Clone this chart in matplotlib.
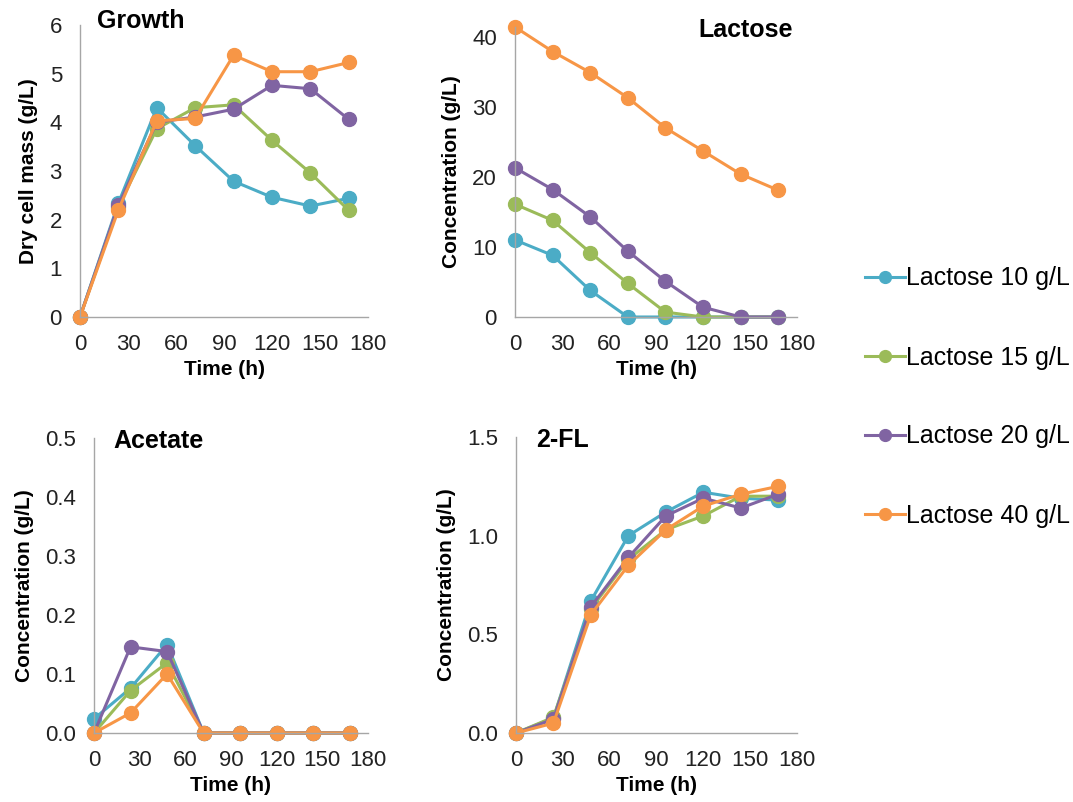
import matplotlib
matplotlib.use('Agg')
import matplotlib.pyplot as plt
from matplotlib.ticker import FormatStrFormatter

plt.rcParams['font.family'] = ['Liberation Sans', 'DejaVu Sans']

time = [0, 24, 48, 72, 96, 120, 144, 168]
labels = ['Lactose 10 g/L', 'Lactose 15 g/L', 'Lactose 20 g/L', 'Lactose 40 g/L']
colors = ['#4bacc6', '#9bbb59', '#8064a2', '#f79646']

growth = [
    [0, 2.34, 4.30, 3.52, 2.79, 2.46, 2.28, 2.44],
    [0, 2.27, 3.87, 4.30, 4.36, 3.63, 2.96, 2.19],
    [0, 2.30, 4.00, 4.11, 4.27, 4.76, 4.69, 4.06],
    [0, 2.20, 4.03, 4.08, 5.38, 5.04, 5.04, 5.23],
]
lactose = [
    [11.0, 8.8, 3.8, 0, 0, 0, 0, 0],
    [16.1, 13.8, 9.2, 4.8, 0.7, 0, 0, 0],
    [21.3, 18.2, 14.3, 9.4, 5.1, 1.4, 0, 0],
    [41.4, 37.9, 34.9, 31.3, 27.0, 23.7, 20.4, 18.1],
]
acetate = [
    [0.024, 0.076, 0.150, 0, 0, 0, 0, 0],
    [0, 0.072, 0.119, 0, 0, 0, 0, 0],
    [0, 0.146, 0.138, 0, 0, 0, 0, 0],
    [0, 0.034, 0.100, 0, 0, 0, 0, 0],
]
fl2 = [
    [0, 0.076, 0.67, 1.00, 1.12, 1.22, 1.19, 1.18],
    [0, 0.080, 0.63, 0.88, 1.03, 1.10, 1.20, 1.20],
    [0, 0.070, 0.64, 0.89, 1.10, 1.19, 1.14, 1.21],
    [0, 0.050, 0.60, 0.85, 1.03, 1.15, 1.21, 1.25],
]

W, H = 1073, 802
fig = plt.figure(figsize=(W / 100, H / 100), dpi=100)


def make_ax(left, right, top, bottom):
    return fig.add_axes([left / W, 1 - bottom / H, (right - left) / W, (bottom - top) / H])


panels = [
    (make_ax(80, 368, 25, 317), growth, 6, [0, 1, 2, 3, 4, 5, 6], '%d', 'Dry cell mass (g/L)'),
    (make_ax(515, 797, 27, 317), lactose, 41.4, [0, 10, 20, 30, 40], '%d', 'Concentration (g/L)'),
    (make_ax(94, 368, 438, 733), acetate, 0.5, [0, 0.1, 0.2, 0.3, 0.4, 0.5], '%.1f', 'Concentration (g/L)'),
    (make_ax(516, 797, 437, 733), fl2, 1.5, [0, 0.5, 1.0, 1.5], '%.1f', 'Concentration (g/L)'),
]

for ax, data, ymax, yticks, fmt, ylab in panels:
    for vals, c, lab in zip(data, colors, labels):
        ax.plot(time, vals, color=c, lw=2.2, marker='o', ms=10, label=lab, clip_on=False)
    ax.set_xlim(0, 180)
    ax.set_ylim(0, ymax)
    ax.set_xticks([0, 30, 60, 90, 120, 150, 180])
    ax.set_yticks(yticks)
    ax.yaxis.set_major_formatter(FormatStrFormatter(fmt))
    ax.tick_params(length=0, labelsize=16, colors='#222222')
    ax.tick_params(axis='y', pad=13)
    ax.tick_params(axis='x', pad=12)
    for s in ['top', 'right']:
        ax.spines[s].set_visible(False)
    for s in ['left', 'bottom']:
        ax.spines[s].set_color('#a6a6a6')
        ax.spines[s].set_linewidth(1)
    ax.set_xlabel('Time (h)', fontsize=15, fontweight='bold', labelpad=4)
    ax.set_ylabel(ylab, fontsize=15, fontweight='bold', labelpad=8)

axs = [p[0] for p in panels]
axs[0].text(0.06, 1.015, 'Growth', transform=axs[0].transAxes, fontsize=18, fontweight='bold', va='center')
axs[1].text(0.985, 0.99, 'Lactose', transform=axs[1].transAxes, fontsize=18, fontweight='bold', va='center', ha='right')
axs[2].text(0.07, 0.99, 'Acetate', transform=axs[2].transAxes, fontsize=18, fontweight='bold', va='center')
axs[3].text(0.07, 0.99, '2-FL', transform=axs[3].transAxes, fontsize=18, fontweight='bold', va='center')

handles, labs = axs[0].get_legend_handles_labels()
fig.legend(handles, labs, loc='center left', bbox_to_anchor=(855 / W, 1 - 397 / H), frameon=False,
           borderaxespad=0, fontsize=18, labelspacing=2.2, handlelength=1.6, handletextpad=0.05,
           markerscale=0.85)

fig.savefig('out.png', dpi=100)
